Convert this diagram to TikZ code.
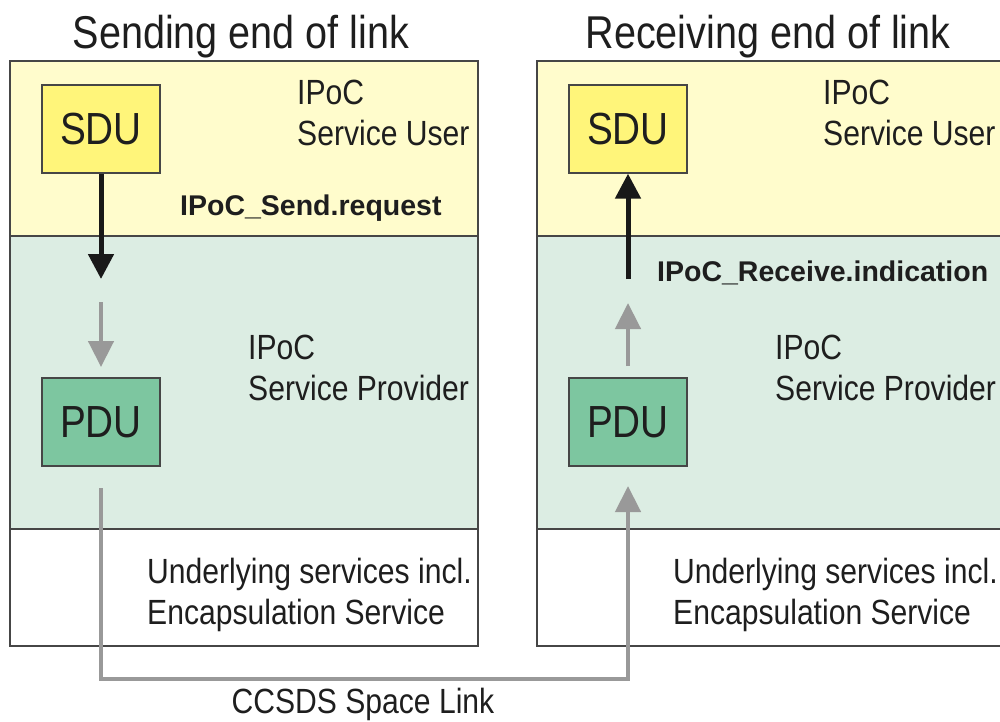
\documentclass[tikz,border=0pt]{standalone}
\usepackage{fontspec}
\setmainfont{Liberation Sans}[FakeStretch=0.86]
\newfontfamily\lblfont{Liberation Sans}
\usetikzlibrary{arrows.meta}
\definecolor{userbg}{RGB}{255,252,204}
\definecolor{provbg}{RGB}{220,237,227}
\definecolor{sdufill}{RGB}{255,245,122}
\definecolor{pdufill}{RGB}{125,198,160}
\definecolor{edge}{RGB}{70,70,70}
\definecolor{flowgray}{RGB}{153,153,153}
\definecolor{ink}{RGB}{30,30,30}
\tikzset{
  layer/.style={draw=edge, line width=1.3pt},
  unit/.style={draw=edge, line width=1.3pt, minimum width=118pt, minimum height=88pt,
    inner sep=0pt, text=ink, font=\fontsize{45}{50}\selectfont},
  title/.style={anchor=base, text=ink, font=\fontsize{46}{50}\selectfont, inner sep=0pt},
  desc/.style={anchor=base west, align=left, text=ink, inner sep=0pt,
    font=\fontsize{35}{41}\selectfont},
  prim/.style={anchor=base west, text=ink, inner sep=0pt,
    font=\lblfont\bfseries\fontsize{28.5}{32}\selectfont},
  callarrow/.style={draw=black!90, line width=5pt,
    -{Triangle[length=25pt,width=25pt]}},
  dataarrow/.style={draw=flowgray, line width=4.5pt,
    -{Triangle[length=26pt,width=25pt]}},
  linkline/.style={draw=flowgray, line width=4.5pt}
}
\begin{document}
\begin{tikzpicture}[x=1pt,y=-1pt]
\useasboundingbox (0,0) rectangle (1000,721);
% layers, sending end
\fill[userbg] (10,61) rectangle (478,236);
\fill[provbg] (10,236) rectangle (478,529);
\fill[white] (10,529) rectangle (478,646);
\draw[layer] (10,61) rectangle (478,646);
\draw[layer] (10,236) -- (478,236);
\draw[layer] (10,529) -- (478,529);
% layers, receiving end
\fill[userbg] (537,61) rectangle (1004,236);
\fill[provbg] (537,236) rectangle (1004,529);
\fill[white] (537,529) rectangle (1004,646);
\draw[layer] (537,61) rectangle (1004,646);
\draw[layer] (537,236) -- (1004,236);
\draw[layer] (537,529) -- (1004,529);
% titles
\node[title] (tl) at (241,48) {Sending end of link};
\node[title] (tr) at (768,48) {Receiving end of link};
% units
\node[unit, fill=sdufill] (sduL) at (101,129) {SDU};
\node[unit, fill=pdufill] (pduL) at (101,422) {PDU};
\node[unit, fill=sdufill] (sduR) at (628,129) {SDU};
\node[unit, fill=pdufill] (pduR) at (628,422) {PDU};
% descriptions (anchored at the baseline of their last line)
\node[desc] (suL) at (297,145) {IPoC\\Service User};
\node[desc] (suR) at (823,145) {IPoC\\Service User};
\node[desc] (spL) at (248,400) {IPoC\\Service Provider};
\node[desc] (spR) at (775,400) {IPoC\\Service Provider};
\node[desc] (ulL) at (147,624) {Underlying services incl.\\Encapsulation Service};
\node[desc] (ulR) at (673,624) {Underlying services incl.\\Encapsulation Service};
\node[prim] (req) at (180,215) {IPoC\_Send.request};
\node[prim] (ind) at (657,281) {IPoC\_Receive.indication};
\node[desc, anchor=base] (link) at (363,713) {CCSDS Space Link};
% connector points
\coordinate (reqend) at (101,279);
\coordinate (dstartL) at (101,302);
\coordinate (dendL) at (101,367);
\coordinate (indstart) at (628,279);
\coordinate (dstartR) at (628,366);
\coordinate (dendR) at (628,303);
\coordinate (outL) at (101,488);
\coordinate (inR) at (628,486);
\coordinate (bendL) at (101,679);
\coordinate (bendR) at (628,679);
% connectors
\draw[callarrow] (sduL.south) -- (reqend);
\draw[dataarrow] (dstartL) -- (dendL);
\draw[callarrow] (indstart) -- (sduR.south);
\draw[dataarrow] (dstartR) -- (dendR);
\draw[dataarrow] (outL) -- (bendL) -- (bendR) -- (inR);
\end{tikzpicture}
\end{document}
